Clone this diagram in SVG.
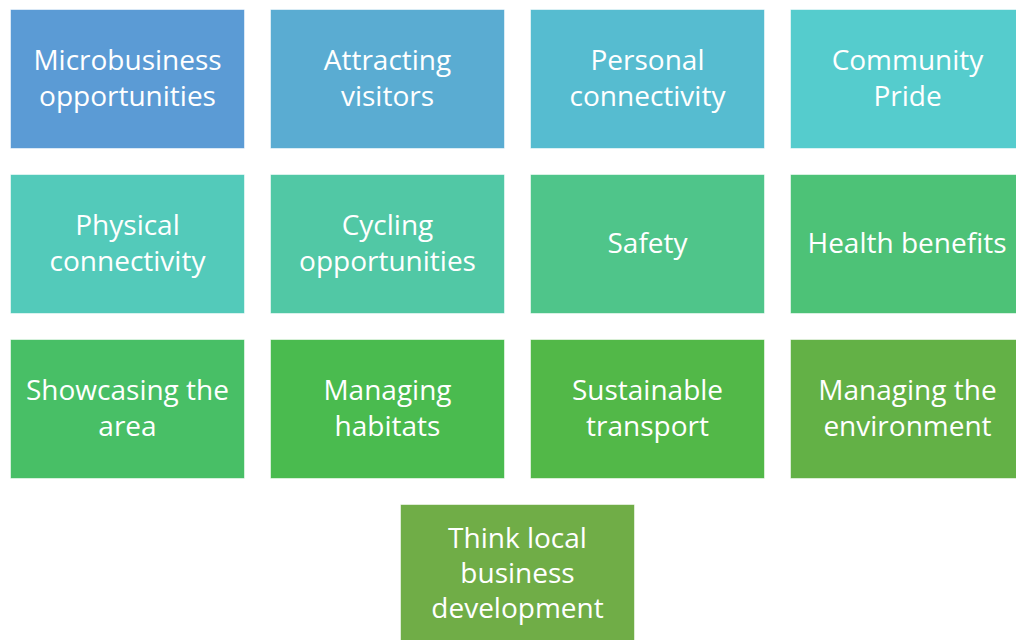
<svg xmlns="http://www.w3.org/2000/svg" width="1016" height="640" viewBox="0 0 1016 640">
<style>
rect{stroke:#ffffff;stroke-opacity:0.55;stroke-width:1}
text{font-family:"Open Sans","Liberation Sans",sans-serif;font-size:28px;fill:#ffffff;text-anchor:middle}
</style>
<rect x="0" y="0" width="1016" height="640" fill="#ffffff" stroke="none"/>
<g id="n1"><rect x="10.5" y="9.5" width="234" height="139" fill="#5B9BD5"/><text x="127.5" y="70">Microbusiness</text><text x="127.5" y="105.5">opportunities</text></g>
<g id="n2"><rect x="270.5" y="9.5" width="234" height="139" fill="#5AACD2"/><text x="387.5" y="70">Attracting</text><text x="387.5" y="105.5">visitors</text></g>
<g id="n3"><rect x="530.5" y="9.5" width="234" height="139" fill="#56BCD0"/><text x="647.5" y="70">Personal</text><text x="647.5" y="105.5">connectivity</text></g>
<g id="n4"><rect x="790.5" y="9.5" width="234" height="139" fill="#55CCCD"/><text x="907.5" y="70">Community</text><text x="907.5" y="105.5">Pride</text></g>
<g id="n5"><rect x="10.5" y="174.5" width="234" height="139" fill="#53CABA"/><text x="127.5" y="235">Physical</text><text x="127.5" y="270.5">connectivity</text></g>
<g id="n6"><rect x="270.5" y="174.5" width="234" height="139" fill="#51C8A5"/><text x="387.5" y="235">Cycling</text><text x="387.5" y="270.5">opportunities</text></g>
<g id="n7"><rect x="530.5" y="174.5" width="234" height="139" fill="#4FC58A"/><text x="647.5" y="253">Safety</text></g>
<g id="n8"><rect x="790.5" y="174.5" width="234" height="139" fill="#4DC277"/><text x="907" y="253">Health benefits</text></g>
<g id="n9"><rect x="10.5" y="339.5" width="234" height="139" fill="#48BF66"/><text x="127.5" y="400">Showcasing the</text><text x="127.5" y="435.5">area</text></g>
<g id="n10"><rect x="270.5" y="339.5" width="234" height="139" fill="#4ABB4F"/><text x="387.5" y="400">Managing</text><text x="387.5" y="435.5">habitats</text></g>
<g id="n11"><rect x="530.5" y="339.5" width="234" height="139" fill="#52B848"/><text x="647.5" y="400">Sustainable</text><text x="647.5" y="435.5">transport</text></g>
<g id="n12"><rect x="790.5" y="339.5" width="234" height="139" fill="#63B146"/><text x="907.5" y="400">Managing the</text><text x="907.5" y="435.5">environment</text></g>
<g id="n13"><rect x="400.5" y="504.5" width="234" height="139" fill="#70AD47"/><text x="517.5" y="548">Think local</text><text x="517.5" y="583">business</text><text x="517.5" y="618">development</text></g>
<g id="connectors"></g>
</svg>
